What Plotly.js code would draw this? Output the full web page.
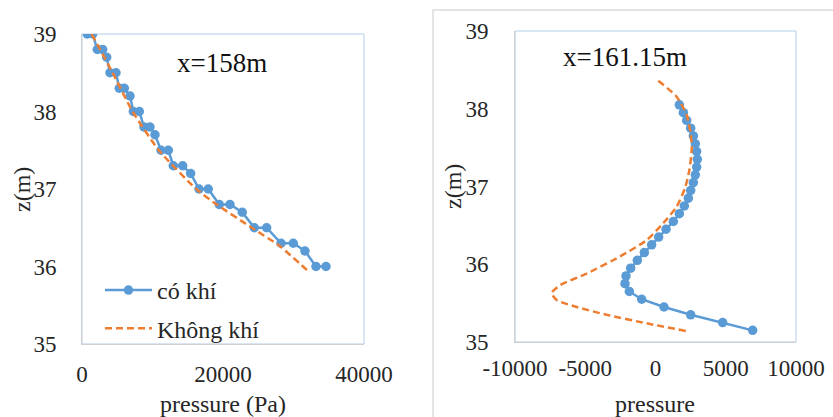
<!DOCTYPE html>
<html>
<head>
<meta charset="utf-8">
<script src="https://cdn.plot.ly/plotly-3.0.1.min.js"></script>
<style>html,body{margin:0;padding:0;background:#fff;}#chart{width:833px;height:417px;}</style>
</head>
<body>
<div id="chart"></div>
<script>
// Left panel (x = 158 m)
const leftGasP = [750,1510,2170,2930,3500,3970,4820,5290,6000,6810,7280,8130,8790,9640,10350,11210,12240,12950,14280,15410,16600,17910,19470,20990,22730,24440,26190,28230,29970,31630,33190,34610];
const leftGasZ = [39,39,38.8,38.8,38.7,38.5,38.5,38.3,38.3,38.2,38.0,38.0,37.8,37.8,37.7,37.5,37.5,37.3,37.3,37.2,37.0,37.0,36.8,36.8,36.7,36.5,36.5,36.3,36.3,36.2,36.0,36.0];
const leftNoGasP = [1370,4340,7180,10900,16200,19100,24100,28090,32200];
const leftNoGasZ = [39,38.5,38.0,37.5,37.0,36.8,36.5,36.26,35.93];

// Right panel (x = 161.15 m)
const rightGasP = [1697,1982,2218,2503,2693,2835,2930,2977,2930,2835,2693,2503,2337,2052,1697,1270,750,225,-273,-795,-1293,-1767,-2100,-2170,-1862,-985,605,2503,4780,6915];
const rightGasZ = [38.05,37.95,37.85,37.75,37.65,37.55,37.45,37.35,37.25,37.15,37.05,36.95,36.85,36.75,36.65,36.55,36.45,36.35,36.25,36.15,36.05,35.95,35.85,35.75,35.65,35.55,35.45,35.35,35.25,35.15];
const rightNoGasP = [200,1505,2218,2503,2575,2408,2100,1505,558,-630,-2527,-4900,-6800,-7390,-7035,-5610,-3475,-630,2218];
const rightNoGasZ = [38.36,38.155,37.92,37.68,37.47,37.21,36.98,36.74,36.53,36.31,36.10,35.88,35.73,35.63,35.54,35.45,35.35,35.24,35.14];

const yTicks = [35,36,37,38,39];
const leftXTicks = [0,20000,40000];
const leftXTickText = ["0","20000","40000"];
const rightXTicks = [-10000,-5000,0,5000,10000];
const rightXTickText = ["-10000","-5000","0","5000","10000"];

const seriesNames = ["có khí","Không khí"];
const panelTitles = ["x=158m","x=161.15m"];
const xTitles = ["pressure (Pa)","pressure"];
const yTitle = "z(m)";

const W = 833, H = 417;
const BLUE = "#5b9bd5", ORANGE = "#ed7d31";
const FONT = "Liberation Serif";

const traces = [
  {x: leftGasP, y: leftGasZ, name: seriesNames[0], mode: "lines+markers", xaxis: "x", yaxis: "y",
   line: {color: BLUE, width: 2.5}, marker: {color: BLUE, size: 9.5}, legendgroup: "a"},
  {x: leftNoGasP, y: leftNoGasZ, name: seriesNames[1], mode: "lines", xaxis: "x", yaxis: "y",
   line: {color: ORANGE, width: 2.5, dash: "7px,4px", shape: "spline", smoothing: 0.6}, legendgroup: "b"},
  {x: rightGasP, y: rightGasZ, name: seriesNames[0], mode: "lines+markers", xaxis: "x2", yaxis: "y2",
   line: {color: BLUE, width: 2.5}, marker: {color: BLUE, size: 9.5}, showlegend: false},
  {x: rightNoGasP, y: rightNoGasZ, name: seriesNames[1], mode: "lines", xaxis: "x2", yaxis: "y2",
   line: {color: ORANGE, width: 2.5, dash: "7px,4px", shape: "spline", smoothing: 0.6}, showlegend: false}
];

const tickFont = {family: FONT, size: 23, color: "#262626"};
const axisBase = {showgrid: false, zeroline: false, showline: true, linecolor: "#d0d0d0", linewidth: 1,
  ticks: "", tickfont: tickFont, fixedrange: true};

const px = v => v / W;
const py = v => 1 - v / H;

function ann(text, x, y, size, color, angle) {
  return {text: text, xref: "paper", yref: "paper", x: px(x), y: py(y), xanchor: "center", yanchor: "middle",
    showarrow: false, textangle: angle || 0, font: {family: FONT, size: size, color: color}};
}

const layout = {
  width: W, height: H,
  margin: {l: 0, r: 0, t: 0, b: 0},
  paper_bgcolor: "#fff", plot_bgcolor: "#fff",
  font: {family: FONT, color: "#262626"},
  showlegend: true,
  legend: {x: px(100), y: py(268), xanchor: "left", yanchor: "top", bgcolor: "rgba(0,0,0,0)",
    font: {family: FONT, size: 24, color: "#262626"}, itemwidth: 47, tracegroupgap: 4},
  xaxis: Object.assign({}, axisBase, {domain: [px(82), px(364)], range: [0, 40000], tickvals: leftXTicks, ticktext: leftXTickText, anchor: "y", ticklabelstandoff: 9}),
  yaxis: Object.assign({}, axisBase, {domain: [py(344), py(34)], range: [35, 39], tickvals: yTicks, anchor: "x", ticklabelstandoff: 20}),
  xaxis2: Object.assign({}, axisBase, {domain: [px(515), px(796)], range: [-10000, 10000], tickvals: rightXTicks, ticktext: rightXTickText, anchor: "y2", ticklabelstandoff: 5}),
  yaxis2: Object.assign({}, axisBase, {domain: [py(342), py(31)], range: [35, 39], tickvals: yTicks, anchor: "x2", ticklabelstandoff: 21}),
  shapes: [
    {type: "rect", xref: "x domain", yref: "y domain", x0: 0, x1: 1, y0: 0, y1: 1, line: {color: "#b4cde9", width: 1}, layer: "below"},
    {type: "rect", xref: "x2 domain", yref: "y2 domain", x0: 0, x1: 1, y0: 0, y1: 1, line: {color: "#b4cde9", width: 1}, layer: "below"},
    {type: "rect", xref: "paper", yref: "paper", x0: px(433), x1: 1.02, y0: -0.02, y1: py(10), line: {color: "#dcdcdc", width: 1.5}, layer: "below"}
  ],
  annotations: [
    ann(panelTitles[0], 222, 63, 27, "#111"),
    ann(panelTitles[1], 625, 57, 27, "#111"),
    ann(xTitles[0], 223, 404, 24, "#262626"),
    ann(xTitles[1], 655, 404, 24, "#262626"),
    ann(yTitle, 22, 190, 24, "#262626", -90),
    ann(yTitle, 453, 187, 24, "#262626", -90)
  ]
};

Plotly.newPlot("chart", traces, layout, {displayModeBar: false, staticPlot: true});
</script>
</body>
</html>
